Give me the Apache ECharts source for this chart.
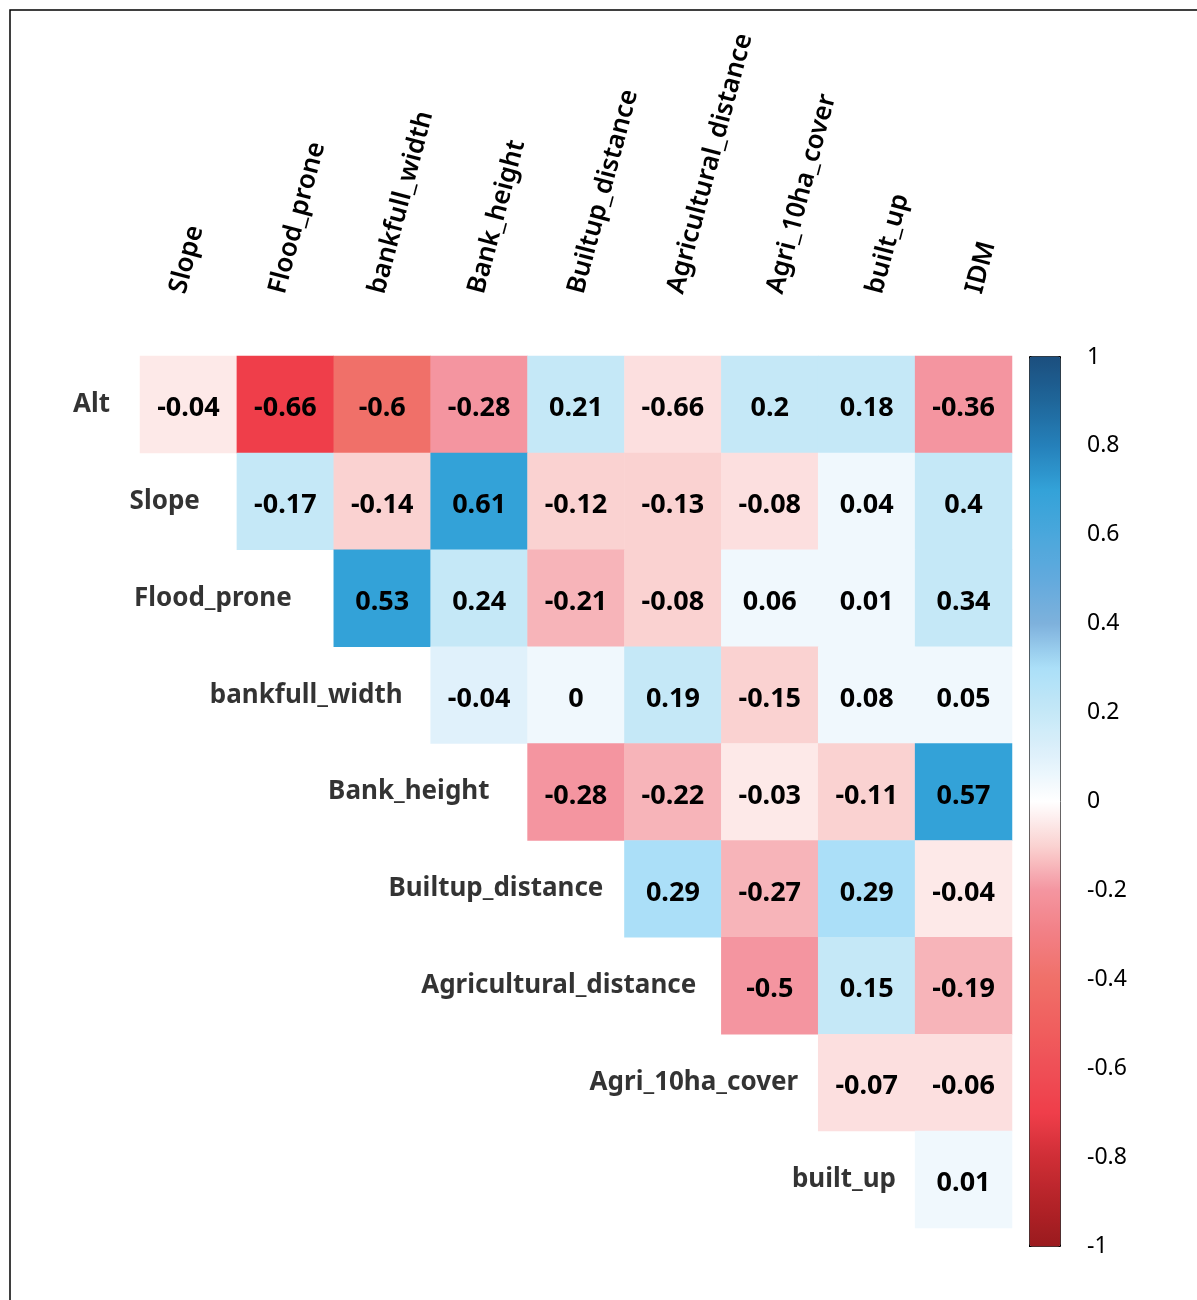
<!DOCTYPE html>
<html>
<head>
<meta charset="utf-8">
<script src="https://cdn.jsdelivr.net/npm/echarts@6/dist/echarts.min.js"></script>
<style>
html,body{margin:0;padding:0;background:#fff;}
#chart{width:1197px;height:1300px;}
</style>
</head>
<body>
<div id="chart"></div>
<script>
// Column variables (top labels)
const colNames = ['Slope','Flood_prone','bankfull_width','Bank_height','Builtup_distance','Agricultural_distance','Agri_10ha_cover','built_up','IDM'];
// Row variables (left labels)
const rowNames = ['Alt','Slope','Flood_prone','bankfull_width','Bank_height','Builtup_distance','Agricultural_distance','Agri_10ha_cover','built_up'];
// Printed coefficient in each cell (row i starts at column i)
const cellLabels = [
  [-0.04,-0.66,-0.6,-0.28,0.21,-0.66,0.2,0.18,-0.36],
  [-0.17,-0.14,0.61,-0.12,-0.13,-0.08,0.04,0.4],
  [0.53,0.24,-0.21,-0.08,0.06,0.01,0.34],
  [-0.04,0,0.19,-0.15,0.08,0.05],
  [-0.28,-0.22,-0.03,-0.11,0.57],
  [0.29,-0.27,0.29,-0.04],
  [-0.5,0.15,-0.19],
  [-0.07,-0.06],
  [0.01]
];
// Colour value of each cell as read from the fill (on the -1..1 scale)
const cellShades = [
  [-0.05,-0.7,-0.4,-0.2,0.2,-0.07,0.2,0.2,-0.2],
  [0.2,-0.1,0.7,-0.1,-0.1,-0.07,0.05,0.2],
  [0.7,0.2,-0.15,-0.1,0.05,0.05,0.2],
  [0.1,0.05,0.2,-0.1,0.05,0.05],
  [-0.2,-0.15,-0.05,-0.1,0.7],
  [0.3,-0.15,0.3,-0.05],
  [-0.2,0.2,-0.15],
  [-0.07,-0.07],
  [0.05]
];
// Colour bar ticks
const barTicks = [-1,-0.8,-0.6,-0.4,-0.2,0,0.2,0.4,0.6,0.8,1];

// ---- styling ----
// Colour ramp, -1 to 1 in steps of 0.1
const rampColors = ['#9A1A1E','#B42328','#CF2E36','#EF3E4A','#EF4F56','#F0605F','#F07069','#F27F84','#F495A0','#FAD2D1','#FFFFFF','#E0F1FB','#C5E8F7','#ABDFF8','#7EB1DC','#62AADD','#4AA7DC','#33A2D8','#2580BA','#1F6699','#1B4E7E'];
// gap (px) between each row label and its first cell
const rowLabelGaps = [30,37,42,28,38,21,25,20,19];

const FONT = 'Noto Sans';
const heatData = [];
cellLabels.forEach((row, i) => {
  row.forEach((v, k) => {
    const j = i + k;
    heatData.push([j, i, cellShades[i][k], v]);
  });
});
const rowLabelData = rowNames.map((n, i) => ({value: [i, i, n], label: {distance: rowLabelGaps[i]}}));

const chart = echarts.init(document.getElementById('chart'));
chart.setOption({
  animation: false,
  backgroundColor: '#fff',
  textStyle: {fontFamily: FONT},
  graphic: [{
    type: 'rect', shape: {x: 10, y: 10, width: 1300, height: 1400},
    style: {fill: 'none', stroke: '#000', lineWidth: 1.5}, silent: true
  }],
  grid: [
    {left: 140, top: 356, width: 872, height: 872},
    {left: 1029, top: 357, width: 31, height: 889},
    {left: 128, top: 356, width: 896, height: 872}
  ],
  xAxis: [
    {type: 'category', gridIndex: 0, data: colNames, position: 'top', show: false},
    {type: 'value', gridIndex: 1, show: false, min: 0, max: 1},
    {type: 'category', gridIndex: 2, data: colNames, position: 'top',
     axisLine: {show: false}, axisTick: {show: false}, splitLine: {show: false},
     axisLabel: {interval: 0, rotate: -75, margin: 63, fontSize: 26, fontWeight: 600, color: '#000',
       fontFamily: FONT, padding: [0, 0, 24, 0]}}
  ],
  yAxis: [
    {type: 'category', gridIndex: 0, data: rowNames, inverse: true, show: false},
    {type: 'value', gridIndex: 1, position: 'right', min: -1, max: 1, interval: 0.2,
     axisLine: {show: false}, splitLine: {show: false},
     axisTick: {show: true, length: 8, lineStyle: {color: '#000', width: 1}},
     axisLabel: {margin: 27, fontSize: 23, color: '#000', fontFamily: FONT, padding: [8, 0, 0, 0],
       formatter: v => { const r = Math.round(v * 10) / 10; return barTicks.indexOf(r) >= 0 ? String(r) : ''; }}},
    {type: 'category', gridIndex: 2, data: rowNames, inverse: true, show: false}
  ],
  visualMap: {
    type: 'continuous', min: -1, max: 1, seriesIndex: 0, dimension: 2,
    left: 1029, top: 356, itemWidth: 31, itemHeight: 890, padding: 0,
    calculable: false, text: null, showLabel: false, hoverLink: false,
    borderColor: '#000', borderWidth: 1,
    inRange: {color: rampColors}
  },
  series: [
    {type: 'heatmap', xAxisIndex: 0, yAxisIndex: 0, data: heatData,
     label: {show: true, color: '#000', fontSize: 27, fontWeight: 'bold', fontFamily: FONT,
       offset: [0, 4], formatter: p => String(p.data[3])},
     itemStyle: {borderWidth: 0}, emphasis: {disabled: true}},
    {type: 'scatter', xAxisIndex: 0, yAxisIndex: 0, data: rowLabelData,
     symbol: 'rect', symbolSize: 97, itemStyle: {color: 'rgba(0,0,0,0)'},
     label: {show: true, position: 'left', color: '#000', fontSize: 26,
       fontWeight: 'bold', fontFamily: FONT, formatter: p => p.value[2]},
     silent: true}
  ]
});
</script>
</body>
</html>
